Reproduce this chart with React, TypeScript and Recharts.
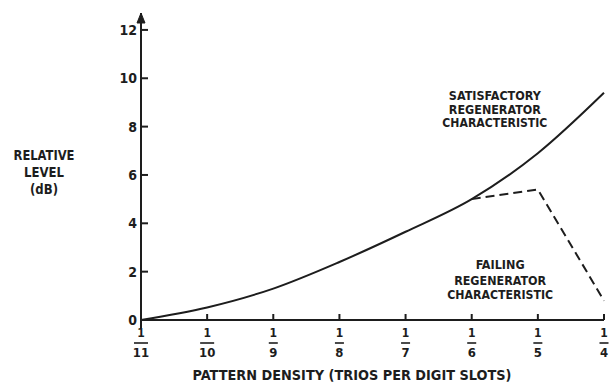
import { LineChart, Line, XAxis, YAxis, ReferenceDot } from 'recharts';

// pattern density 1/n, n = denominators
const denominators = ['11', '10', '9', '8', '7', '6', '5', '4'];
const satisfactory = [0, 0.52, 1.3, 2.4, 3.65, 5.0, 6.9, 9.4];
const failing = [null, null, null, null, null, 5.0, 5.4, 0.8];
const yTicks = [0, 2, 4, 6, 8, 10, 12];
const xTicks = [0, 1, 2, 3, 4, 5, 6, 7];

const yLabelLines = ['RELATIVE', 'LEVEL', '(dB)'];
const xLabelText = 'PATTERN DENSITY (TRIOS PER DIGIT SLOTS)';
const satisfactoryNote = ['SATISFACTORY', 'REGENERATOR', 'CHARACTERISTIC'];
const failingNote = ['FAILING', 'REGENERATOR', 'CHARACTERISTIC'];

const data = denominators.map((d, i) => ({
    i,
    d,
    satisfactory: satisfactory[i],
    failing: failing[i],
}));

const INK = '#1d1d1d';
const FONT = '"DejaVu Sans Condensed", "DejaVu Sans", sans-serif';

const XTick = ({ x, y, payload }: any) => {
    const den = denominators[payload.value];
    const w = den.length > 1 ? 14 : 9;
    return (
        <g>
            {payload.value === 0
                ? <line x1={x} y1={y} x2={x} y2={y + 8} stroke={INK} strokeWidth={2} />
                : <line x1={x} y1={y} x2={x} y2={y - 6} stroke={INK} strokeWidth={2} />}
            <text x={x} y={y + 17} textAnchor="middle" fontFamily={FONT} fontWeight="bold" fontSize={12} fill={INK}>1</text>
            <line x1={x - w / 2} x2={x + w / 2} y1={y + 23} y2={y + 23} stroke={INK} strokeWidth={1.6} />
            <text x={x} y={y + 37} textAnchor="middle" fontFamily={FONT} fontWeight="bold" fontSize={13} fill={INK}>{den}</text>
        </g>
    );
};

const YTick = ({ x, y, payload }: any) => (
    <g>
        <line x1={x} y1={y} x2={x + 7} y2={y} stroke={INK} strokeWidth={2} />
        <text x={x - 4} y={y + 5} textAnchor="end" fontFamily={FONT} fontWeight="bold" fontSize={14} fill={INK}>
            {payload.value}
        </text>
    </g>
);

const YLabel = ({ viewBox }: any) => {
    const cx = viewBox.x - 37;
    const widths = [61, 40, 28];
    const base = [160, 177, 194];
    return (
        <g>
            {yLabelLines.map((t, k) => (
                <text key={t} x={cx} y={base[k]} textAnchor="middle" fontFamily={FONT} fontWeight="bold"
                    fontSize={14} fill={INK} textLength={widths[k]} lengthAdjust="spacingAndGlyphs">{t}</text>
            ))}
        </g>
    );
};

const XLabel = ({ viewBox }: any) => (
    <text x={viewBox.x + 211} y={viewBox.y + 60} textAnchor="middle" fontFamily={FONT} fontWeight="bold"
        fontSize={14} fill={INK} textLength={319} lengthAdjust="spacingAndGlyphs">{xLabelText}</text>
);

const Note = (lines: string[], widths: number[], gaps: number[]) => ({ viewBox }: any) => (
    <g>
        {lines.map((t, k) => (
            <text key={k} x={viewBox.x} y={viewBox.y + gaps[k]} textAnchor="middle" fontFamily={FONT}
                fontWeight="bold" fontSize={13} fill={INK} textLength={widths[k]} lengthAdjust="spacingAndGlyphs">{t}</text>
        ))}
    </g>
);

const Arrow = ({ cx, cy }: any) => (
    <path d={`M${cx - 4},${cy + 10} L${cx},${cy} L${cx + 4},${cy + 10} Z`} fill={INK} stroke={INK} strokeWidth={1} />
);

export default function App() {
    return (
        <div style={{ position: 'absolute', left: 0, top: 0, width: 613, height: 389, background: '#fff' }}>
            <LineChart width={613} height={389} data={data} margin={{ top: 13, right: 9, left: 81, bottom: 0 }}>
                <XAxis
                    dataKey="i"
                    type="number"
                    domain={[0, 7]}
                    ticks={xTicks}
                    height={69}
                    tickSize={0}
                    tickMargin={0}
                    tickLine={false}
                    axisLine={{ stroke: INK, strokeWidth: 2 }}
                    tick={<XTick />}
                    interval={0}
                    label={<XLabel />}
                />
                <YAxis
                    type="number"
                    domain={[0, 12.7]}
                    ticks={yTicks}
                    width={60}
                    tickSize={0}
                    tickMargin={0}
                    tickLine={false}
                    axisLine={{ stroke: INK, strokeWidth: 2 }}
                    tick={<YTick />}
                    interval={0}
                    label={<YLabel />}
                />
                <ReferenceDot x={0} y={12.7} r={0} ifOverflow="visible" shape={<Arrow />} />
                <Line
                    type="monotone"
                    dataKey="satisfactory"
                    stroke={INK}
                    strokeWidth={2}
                    dot={false}
                    isAnimationActive={false}
                />
                <Line
                    type="linear"
                    dataKey="failing"
                    stroke={INK}
                    strokeWidth={2}
                    strokeDasharray="9 5"
                    dot={false}
                    isAnimationActive={false}
                />
                <ReferenceDot x={5.35} y={9.1} r={0} ifOverflow="visible" fill="none" stroke="none"
                    label={Note(satisfactoryNote, [92, 92, 105], [0, 13.5, 27])} />
                <ReferenceDot x={5.43} y={2.11} r={0} ifOverflow="visible" fill="none" stroke="none"
                    label={Note(failingNote, [49, 92, 106], [0, 16, 30])} />
            </LineChart>
        </div>
    );
}
